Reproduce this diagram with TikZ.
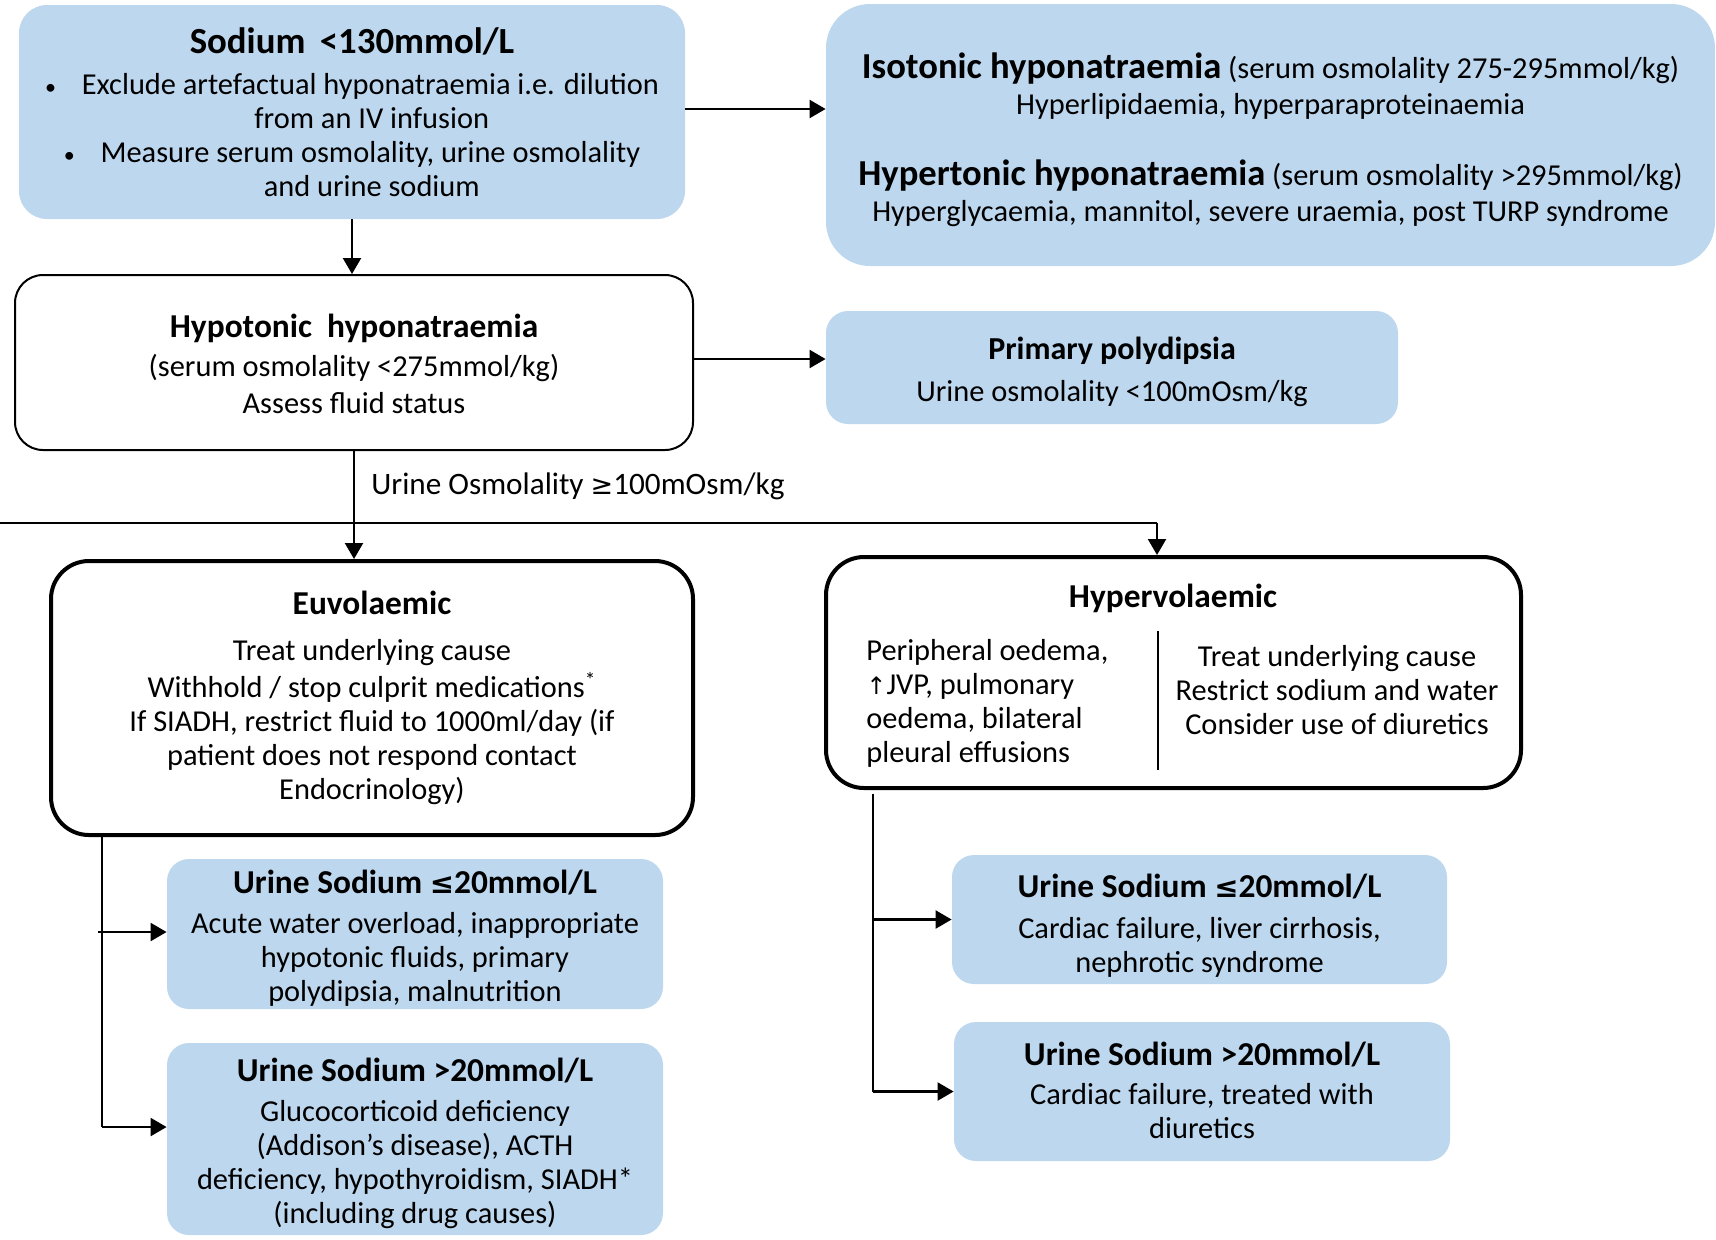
\documentclass[tikz,border=0pt]{standalone}
\usepackage{fontspec}
\setmainfont{Carlito}
\newfontfamily\symfont{DejaVu Sans}
\usetikzlibrary{arrows.meta,calc}
\definecolor{boxblue}{RGB}{189,215,238}
\begin{document}
\begin{tikzpicture}[x=0.5pt,y=-0.5pt,
  font=\fontsize{15.2}{17}\selectfont,
  bluebox/.style={fill=boxblue, draw=none, inner sep=0pt, rounded corners=12pt},
  whitebox/.style={fill=white, draw=black, inner sep=0pt},
  txt/.style={inner sep=0pt, align=center},
  arr/.style={-{Triangle[length=8pt,width=9pt]}, line width=1.1pt},
  thinline/.style={line width=0.8pt},
]
\newcommand{\hdg}[2][16.7]{{\bfseries\fontsize{#1}{20}\selectfont #2}}
\newcommand{\smb}[1]{{\symfont\fontsize{13.5}{17}\selectfont #1}}
\newcommand{\bul}{{\fontsize{11}{17}\selectfont •}\hspace{0.85em}}
\useasboundingbox (0,0) rectangle (1716,1239);

% top left
\node[bluebox, rounded corners=14pt, minimum width=333pt, minimum height=107pt] (sod) at (352,112) {};
\node[txt] (sodt) at (sod.center)
{\hdg[18.4]{Sodium \,<130mmol/L}\\[3.8pt]
\bul Exclude artefactual hyponatraemia i.e. dilution\\
\hspace{1.3em}from an IV infusion\\
\bul Measure serum osmolality, urine osmolality\\
\hspace{1.3em}and urine sodium};

% top right
\node[bluebox, rounded corners=22pt, minimum width=444.5pt, minimum height=131pt] (iso) at (1270.5,135) {};
\node[txt, yshift=-2.2pt] (isot) at (iso.center)
{\hdg[18.3]{Isotonic hyponatraemia} (serum osmolality 275-295mmol/kg)\\[1pt]
Hyperlipidaemia, hyperparaproteinaemia\\[18.6pt]
\hdg[18.3]{Hypertonic hyponatraemia} (serum osmolality >295mmol/kg)\\[1pt]
Hyperglycaemia, mannitol, severe uraemia, post TURP syndrome};

% hypotonic
\node[whitebox, line width=1pt, rounded corners=14pt, minimum width=339pt, minimum height=87.5pt] (hypo) at (354,362.5) {};
\node[txt, yshift=-0.6pt] (hypot) at (hypo.center)
{\hdg{Hypotonic\ \ hyponatraemia}\\[2.7pt]
(serum osmolality <275mmol/kg)\\[1.6pt]
Assess fluid status};

% primary polydipsia
\node[bluebox, rounded corners=11pt, minimum width=286pt, minimum height=56.5pt] (pp) at (1112,367.5) {};
\node[txt, yshift=-2.2pt] (ppt) at (pp.center)
{\hdg[16]{Primary polydipsia}\\[3.8pt]
Urine osmolality <100mOsm/kg};

% label
\node[anchor=west, inner sep=0pt, font=\fontsize{15.6}{17}\selectfont] (uo) at (371,486) {Urine Osmolality \smb{≥}100mOsm/kg};

% euvolaemic
\node[whitebox, line width=2pt, rounded corners=19pt, minimum width=321pt, minimum height=137pt] (euv) at (372,698) {};
\node[txt] (euvt) at (euv.center)
{\hdg{Euvolaemic}\\[6pt]
Treat underlying cause\\[1.6pt]
Withhold / stop culprit medications\textsuperscript{*}\\
If SIADH, restrict fluid to 1000ml/day (if\\
patient does not respond contact\\
Endocrinology)};

% hypervolaemic
\node[whitebox, line width=2pt, rounded corners=19pt, minimum width=347.5pt, minimum height=115.5pt] (hyp) at (1173.5,672.5) {};
\node[inner sep=0pt] (hyph) at (1173,598) {\hdg{Hypervolaemic}};
\node[anchor=west, inner sep=0pt, align=left] (hypl) at (866,703) {Peripheral oedema,\\
{\symfont\fontsize{12}{17}\selectfont ↑}JVP, pulmonary\\
oedema, bilateral\\
pleural effusions};
\node[txt] (hypr) at (1337,690) {Treat underlying cause\\
Restrict sodium and water\\
Consider use of diuretics};
\coordinate (dvt) at (1158,631);
\coordinate (dvb) at (1158,770);
\draw[thinline] (dvt) -- (dvb);

% bottom boxes
\node[bluebox, rounded corners=11pt, minimum width=248pt, minimum height=75pt] (ls1) at (415,934) {};
\node[txt, yshift=-2.2pt] (ls1t) at (ls1.center)
{\hdg{Urine Sodium {\symfont\bfseries\fontsize{14.5}{18}\selectfont ≤}20mmol/L}\\[3.3pt]
Acute water overload, inappropriate\\
hypotonic fluids, primary\\
polydipsia, malnutrition};
\node[bluebox, rounded corners=11pt, minimum width=248pt, minimum height=96pt] (ls2) at (415,1139) {};
\node[txt, yshift=-2.2pt] (ls2t) at (ls2.center)
{\hdg{Urine Sodium >20mmol/L}\\[2.7pt]
Glucocorticoid deficiency\\
(Addison’s disease), ACTH\\
deficiency, hypothyroidism, SIADH*\\
(including drug causes)};
\node[bluebox, rounded corners=11pt, minimum width=247.5pt, minimum height=64.5pt] (rs1) at (1199.5,919.5) {};
\node[txt, yshift=-3.2pt] (rs1t) at (rs1.center)
{\hdg{Urine Sodium {\symfont\bfseries\fontsize{14.5}{18}\selectfont ≤}20mmol/L}\\[3.3pt]
Cardiac failure, liver cirrhosis,\\
nephrotic syndrome};
\node[bluebox, rounded corners=11pt, minimum width=248pt, minimum height=69.5pt] (rs2) at (1202,1091.5) {};
\node[txt, yshift=0.5pt] (rs2t) at (rs2.center)
{\hdg{Urine Sodium >20mmol/L}\\[2.7pt]
Cardiac failure, treated with\\
diuretics};

% connectors
\coordinate (a1) at ($(sod.east)+(0,-3)$);
\draw[arr] (a1) -- (a1 -| iso.west);
\draw[arr] (sod.south) -- (sod.south |- hypo.north);
\coordinate (a2) at ($(hypo.east)+(0,-3.5)$);
\draw[arr] (a2) -- (a2 -| pp.west);
\coordinate (hm) at (354,523);
\draw[thinline] (hypo.south) -- (hm);
\draw[arr] (hm) -- (hm |- euv.north);
\coordinate (hl) at (0,523);
\coordinate (hr) at (1157,523);
\draw[thinline] (hl) -- (hr);
\draw[arr] (hr) -- (hr |- hyp.north);

\coordinate (et) at (102,835);
\coordinate (eb) at (102,1127);
\draw[thinline] (et) -- (eb);
\draw[arr] (eb) -- (eb -| ls2.west);
\coordinate (e1) at (98,932);
\draw[arr] (e1) -- (e1 -| ls1.west);

\coordinate (ht) at (873,794);
\draw[thinline] (ht) -- (ht |- rs2.west);
\draw[arr] (ht |- rs2.west) -- (rs2.west);
\draw[arr] (ht |- rs1.west) -- (rs1.west);
\end{tikzpicture}
\end{document}
